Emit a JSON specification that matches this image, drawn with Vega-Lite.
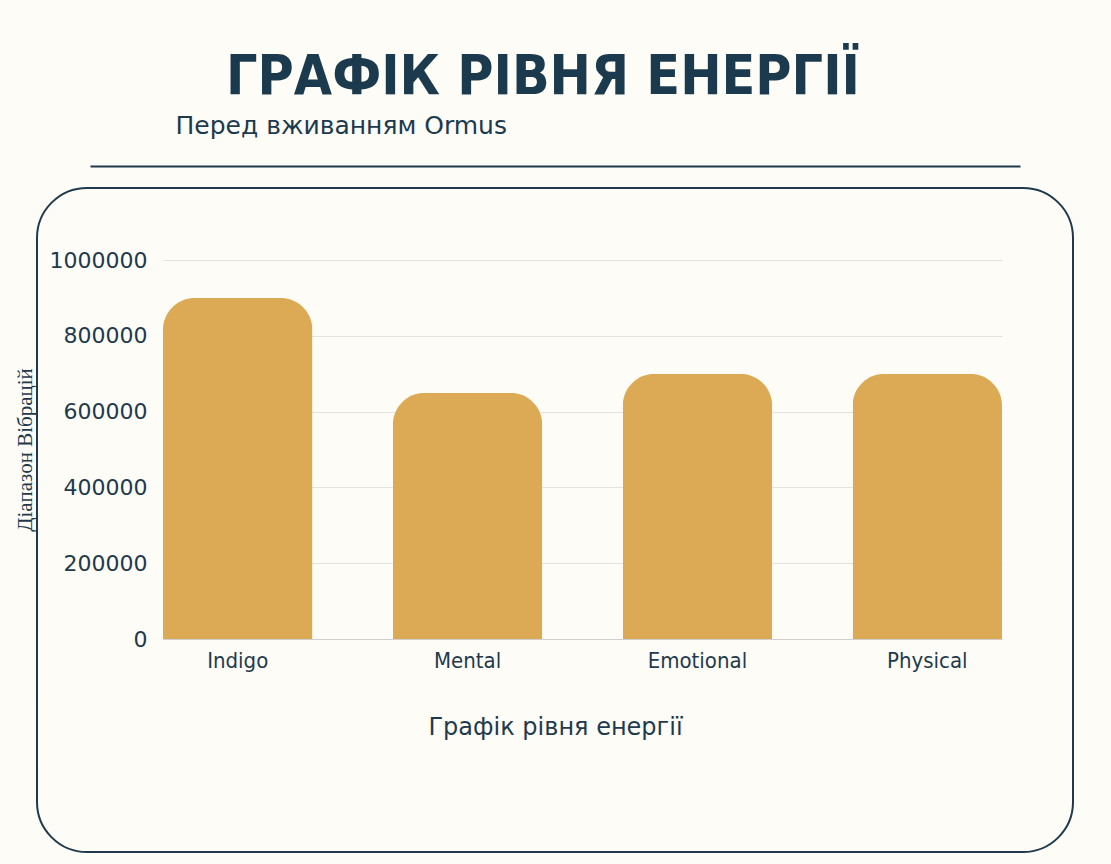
{
  "$schema": "https://vega.github.io/schema/vega-lite/v6.json",
  "width": 1036,
  "height": 664,
  "autosize": {"type": "none"},
  "padding": {"left": 37, "top": 188, "right": 38, "bottom": 12},
  "background": "#fdfcf6",
  "title": {
    "text": "ГРАФІК РІВНЯ ЕНЕРГІЇ",
    "anchor": "middle",
    "frame": "group",
    "dx": -12,
    "offset": 7,
    "font": "DejaVu Sans Condensed",
    "fontSize": 55,
    "fontWeight": "bold",
    "color": "#1c3a4e"
  },
  "data": {
    "values": [
      {"category": "Indigo", "value": 900000},
      {"category": "Mental", "value": 650000},
      {"category": "Emotional", "value": 700000},
      {"category": "Physical", "value": 700000}
    ]
  },
  "layer": [
    {
      "mark": {"type": "bar", "color": "#dcaa55", "cornerRadiusTopLeft": 32, "cornerRadiusTopRight": 32},
      "encoding": {
        "x": {
          "field": "category",
          "type": "nominal",
          "sort": null,
          "scale": {"range": [126, 965], "paddingInner": 0.35, "paddingOuter": 0},
          "axis": {
            "orient": "bottom",
            "offset": -213,
            "title": "Графік рівня енергії",
            "titleX": 518,
            "titleY": 88,
            "titleBaseline": "middle",
            "titleFont": "DejaVu Sans",
            "titleFontSize": 24,
            "titleFontWeight": "normal",
            "titleColor": "#1f3a4d",
            "labelAngle": 0,
            "labelPadding": 11,
            "labelFont": "DejaVu Sans Condensed",
            "labelFontSize": 22,
            "labelColor": "#1f3a4d",
            "ticks": false,
            "tickSize": 0,
            "domainColor": "#cfcfcf",
            "domainWidth": 1,
            "grid": false
          }
        },
        "y": {
          "field": "value",
          "type": "quantitative",
          "scale": {"domain": [0, 1000000], "range": [451, 72], "nice": false},
          "axis": {
            "offset": -126,
            "values": [0, 200000, 400000, 600000, 800000, 1000000],
            "format": "d",
            "title": "Діапазон Вібрацій",
            "titleX": -138,
            "titleBaseline": "middle",
            "titleFont": "Liberation Serif",
            "titleFontSize": 21,
            "titleFontWeight": "normal",
            "titleColor": "#1f3a4d",
            "labelFont": "DejaVu Sans",
            "labelFontSize": 22,
            "labelColor": "#1f3a4d",
            "labelPadding": 16,
            "domain": false,
            "ticks": false,
            "tickSize": 0,
            "grid": true,
            "gridColor": "#e2e2e2",
            "gridWidth": 1
          }
        }
      }
    },
    {
      "mark": {"type": "point", "opacity": 0},
      "encoding": {
        "x": {
          "field": "category",
          "type": "nominal",
          "sort": null,
          "scale": {"range": [53, 983]},
          "axis": {
            "orient": "top",
            "offset": 22,
            "labels": false,
            "ticks": false,
            "title": "Перед вживанням Ormus",
            "titleX": 138,
            "titleY": -33,
            "titleAnchor": "start",
            "titleAlign": "left",
            "titleBaseline": "alphabetic",
            "titleFont": "DejaVu Sans",
            "titleFontSize": 25,
            "titleFontWeight": "normal",
            "titleColor": "#1c3a4e",
            "grid": false,
            "domainColor": "#1f3a4d",
            "domainWidth": 2
          }
        },
        "y": {"field": "value", "type": "quantitative"}
      }
    }
  ],
  "resolve": {"scale": {"x": "independent"}, "axis": {"x": "independent"}},
  "config": {
    "view": {"stroke": "#1f3a4d", "strokeWidth": 2, "cornerRadius": 50}
  }
}
